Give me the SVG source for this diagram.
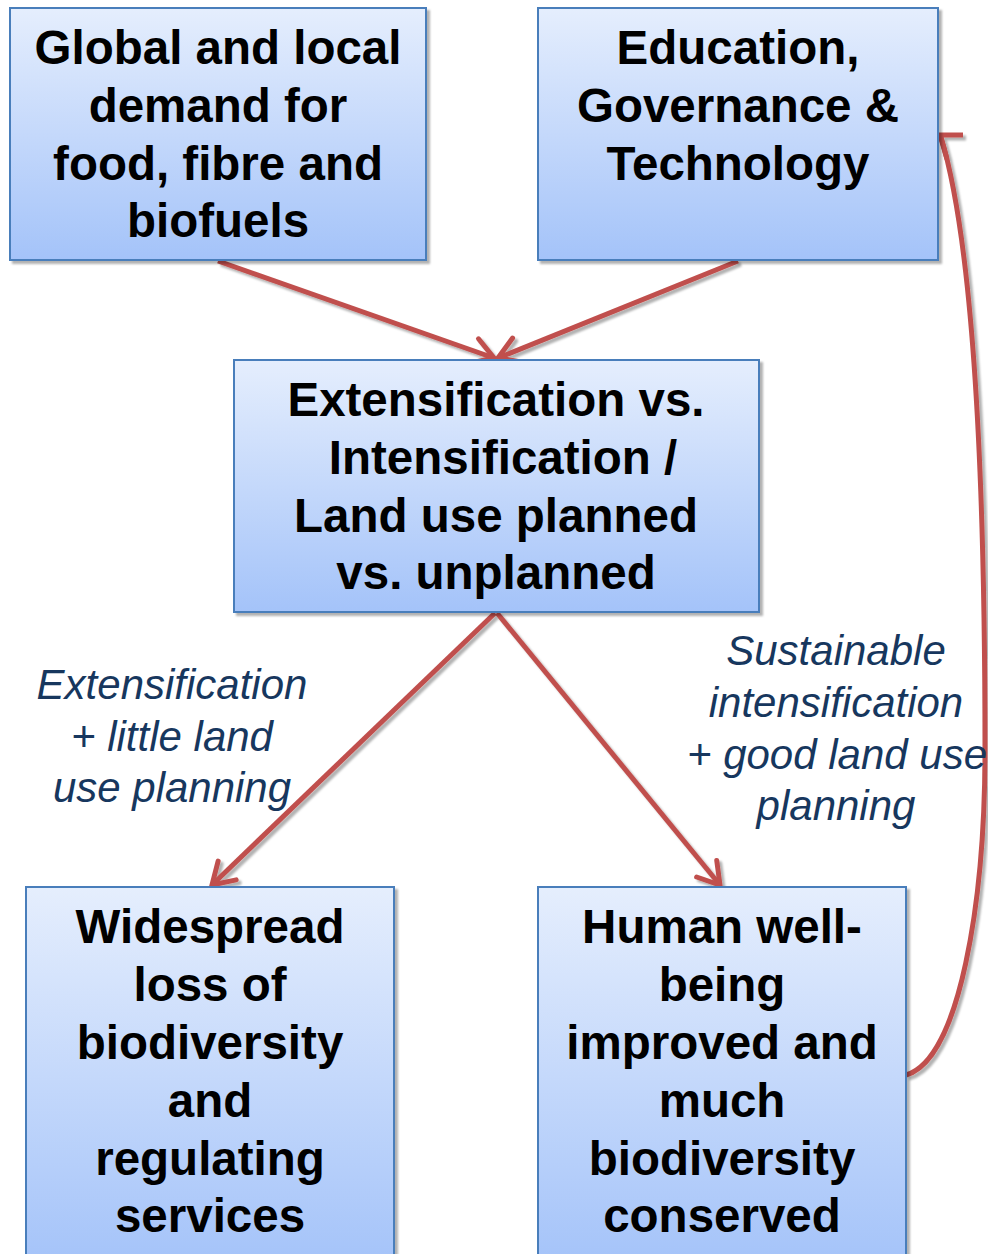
<svg xmlns="http://www.w3.org/2000/svg" width="988" height="1254" viewBox="0 0 988 1254">
<defs>
<linearGradient id="g" x1="0" y1="0" x2="0" y2="1">
<stop offset="0" stop-color="#e5eefd"/>
<stop offset="1" stop-color="#a4c3f9"/>
</linearGradient>
<filter id="sh" x="-10%" y="-10%" width="130%" height="130%">
<feDropShadow dx="3" dy="3" stdDeviation="1.2" flood-color="#000" flood-opacity="0.3"/>
</filter>
<marker id="ah" markerUnits="userSpaceOnUse" markerWidth="50" markerHeight="50" viewBox="-35 -25 50 50" refX="0" refY="0" orient="auto">
<path d="M-21,-13 L0,0 L-21,13" fill="none" stroke="#c0504d" stroke-width="5" stroke-linecap="round" stroke-linejoin="miter"/>
</marker>
</defs>
<style>
.box{fill:url(#g);stroke:#4a7ebb;stroke-width:2;filter:url(#sh)}
.t{font-family:"Liberation Sans",Arial,sans-serif;font-weight:bold;font-size:47.5px;fill:#000;text-anchor:middle}
.lab{font-family:"Liberation Sans",Arial,sans-serif;font-style:italic;font-size:42px;fill:#17375e;text-anchor:middle}
.c{fill:none;stroke:#c0504d;stroke-width:5}
</style>
<g id="connectors" filter="url(#sh)">
<line class="c" x1="218" y1="261" x2="494" y2="358" marker-end="url(#ah)"/>
<line class="c" x1="738" y1="261" x2="498" y2="358" marker-end="url(#ah)"/>
<line class="c" x1="495" y1="613" x2="212" y2="885" marker-end="url(#ah)"/>
<line class="c" x1="497" y1="613" x2="720" y2="885" marker-end="url(#ah)"/>
<path class="c" d="M906,1075 C960,1060 985,900 985,750 C985,500 975,250 941,137"/>
<path class="c" d="M963,135 L940,135 L947,159" stroke-linejoin="miter"/>
</g>
<g id="demand">
<rect class="box" x="10" y="8" width="416" height="252"/>
<text class="t" x="218" y="64">Global and local</text>
<text class="t" x="218" y="122">demand for</text>
<text class="t" x="218" y="180">food, fibre and</text>
<text class="t" x="218" y="237">biofuels</text>
</g>
<g id="education">
<rect class="box" x="538" y="8" width="400" height="252"/>
<text class="t" x="738" y="64">Education,</text>
<text class="t" x="738" y="122">Governance &amp;</text>
<text class="t" x="738" y="180">Technology</text>
</g>
<g id="extensification">
<rect class="box" x="234" y="360" width="525" height="252"/>
<text class="t" x="496" y="416">Extensification vs.</text>
<text class="t" x="503" y="474">Intensification /</text>
<text class="t" x="496" y="532">Land use planned</text>
<text class="t" x="496" y="589">vs. unplanned</text>
</g>
<g id="loss">
<rect class="box" x="26" y="887" width="368" height="380"/>
<text class="t" x="210" y="943">Widespread</text>
<text class="t" x="210" y="1001">loss of</text>
<text class="t" x="210" y="1059">biodiversity</text>
<text class="t" x="210" y="1117">and</text>
<text class="t" x="210" y="1175">regulating</text>
<text class="t" x="210" y="1232">services</text>
</g>
<g id="wellbeing">
<rect class="box" x="538" y="887" width="368" height="380"/>
<text class="t" x="722" y="943">Human well-</text>
<text class="t" x="722" y="1001">being</text>
<text class="t" x="722" y="1059">improved and</text>
<text class="t" x="722" y="1117">much</text>
<text class="t" x="722" y="1175">biodiversity</text>
<text class="t" x="722" y="1232">conserved</text>
</g>
<g id="label-left">
<text class="lab" x="172" y="699">Extensification</text>
<text class="lab" x="172" y="751">+ little land</text>
<text class="lab" x="172" y="802">use planning</text>
</g>
<g id="label-right">
<text class="lab" x="836" y="665">Sustainable</text>
<text class="lab" x="836" y="717">intensification</text>
<text class="lab" x="837" y="769">+ good land use</text>
<text class="lab" x="836" y="820">planning</text>
</g>
</svg>
